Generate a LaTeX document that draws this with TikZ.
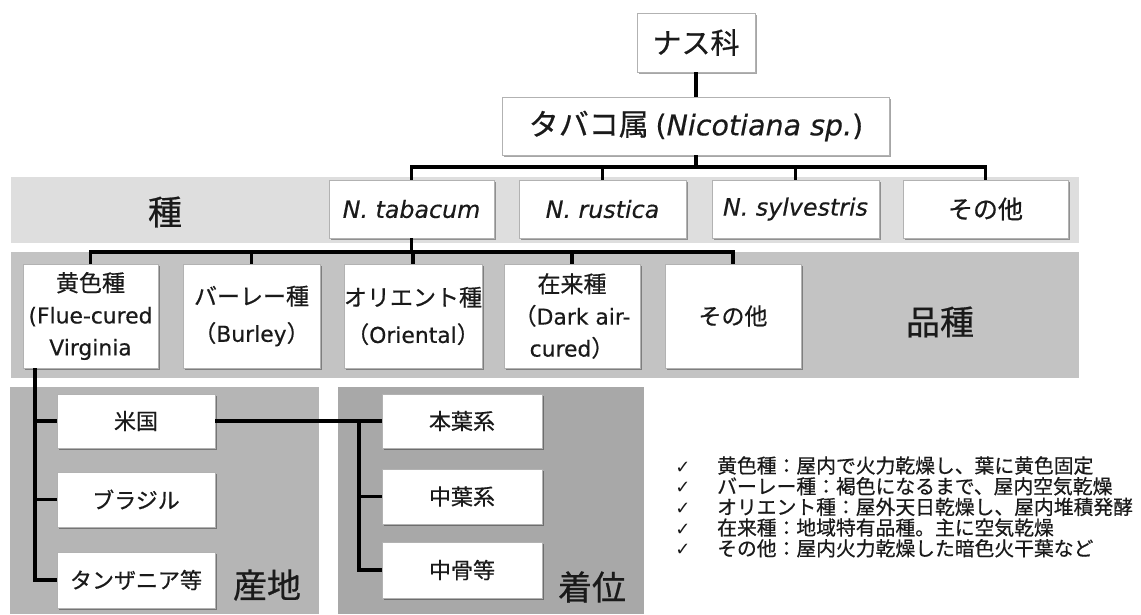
\documentclass[tikz,border=0pt]{standalone}
\usepackage{fontspec}
\setmainfont[FakeBold=0.6]{Noto Sans CJK JP}
\newfontfamily\lat[Scale=0.95,FakeBold=0.4,ItalicFont={DejaVu Sans Oblique}]{DejaVu Sans}
\newfontfamily\chk{DejaVu Sans}
\usetikzlibrary{shadows}
\definecolor{bandA}{HTML}{DEDEDE}
\definecolor{bandB}{HTML}{C3C3C3}
\definecolor{bandC}{HTML}{B5B5B5}
\definecolor{bandD}{HTML}{A8A8A8}
\definecolor{txt}{HTML}{1A1A1A}
\begin{document}
\begin{tikzpicture}[x=1pt,y=-1pt,
  conn/.style={line width=3.8pt, black},
  box/.style={draw=black!30, line width=0.7pt, fill=white, inner sep=0pt, align=center, text=txt,
    drop shadow={shadow xshift=1.6pt, shadow yshift=-1.6pt, opacity=0.35, fill=black}},
  fA/.style={font=\fontsize{29}{34}\selectfont},
  fB/.style={font=\fontsize{30}{34}\selectfont},
  fS/.style={font=\fontsize{25}{30}\selectfont},
  fV/.style={font=\fontsize{23}{32}\selectfont},
  fV2/.style={font=\fontsize{23}{37}\selectfont},
  fO/.style={font=\fontsize{22}{26}\selectfont},
  lbl/.style={font=\fontsize{34}{40}\selectfont, text=txt, inner sep=0pt},
  note/.style={font=\fontsize{19.8}{22}\selectfont, text=txt, inner sep=0pt, anchor=base west},
  chkst/.style={font=\chk\fontsize{18}{20}\selectfont, text=txt, inner sep=0pt, anchor=base}
]
\useasboundingbox[fill=white] (0,0) rectangle (1141,614);
% bands
\fill[bandA] (11,177) rectangle (1079,243);
\fill[bandB] (11,252) rectangle (1079,378);
\fill[bandC] (10,387) rectangle (319,614);
\fill[bandD] (338,387) rectangle (644,614);
% top
\node[box,fA,minimum width=118,minimum height=59] (nas) at (696,42.5) {ナス科};
\node[box,fB,minimum width=387,minimum height=58] (genus) at (696,126) {タバコ属 {\lat(\textit{Nicotiana sp.})}};
% species
\node[box,fS,minimum width=165,minimum height=58] (tabacum) at (411.5,209) {{\lat\itshape N. tabacum}};
\node[box,fS,minimum width=167,minimum height=58] (rustica) at (602.5,209) {{\lat\itshape N. rustica}};
\node[box,fS,minimum width=167,minimum height=58] (sylv) at (795.5,209) {{\lat\itshape N. sylvestris}};
\node[box,fS,minimum width=165,minimum height=58] (sonota) at (985.5,209) {その他};
% varieties
\node[box,fV,minimum width=135,minimum height=104] (yellow) at (90.5,316) {黄色種\\{\lat(Flue-cured}\\{\lat Virginia}};
\node[box,fV2,minimum width=137,minimum height=104] (burley) at (251.5,316) {バーレー種\\（{\lat Burley}）};
\node[box,fV2,minimum width=136,minimum height=104] (oriental) at (413,316) {オリエント種\\（{\lat Oriental}）};
\node[box,fV,minimum width=136,minimum height=104] (native) at (572,316) {在来種\\（{\lat Dark air-}\\{\lat cured}）};
\node[box,fV,minimum width=136,minimum height=104] (other) at (733,316) {その他};
% origin
\node[box,fO,minimum width=158,minimum height=54] (usa) at (136,421) {米国};
\node[box,fO,minimum width=158,minimum height=55] (brazil) at (136,499.5) {ブラジル};
\node[box,fO,minimum width=158,minimum height=56] (tanz) at (136,580) {タンザニア等};
% position
\node[box,fO,minimum width=160,minimum height=54] (honba) at (462,421) {本葉系};
\node[box,fO,minimum width=160,minimum height=55] (chuyo) at (462,496.5) {中葉系};
\node[box,fO,minimum width=160,minimum height=56] (chukotsu) at (462,570) {中骨等};
% labels
\node[lbl] (shu) at (165,212) {種};
\node[lbl] (hinshu) at (940,322) {品種};
\node[lbl] (sanchi) at (267,585) {産地};
\node[lbl] (chakui) at (592,587) {着位};
% connectors
\coordinate (busA) at (0,167);
\coordinate (busB) at (0,252);
\draw[conn] (nas) -- (genus);
\draw[conn] (genus.south) -- (genus.south |- busA);
\draw[conn] (tabacum.north) -- (tabacum.north |- busA) -| (sonota.north);
\draw[conn] (rustica.north) -- (rustica.north |- busA);
\draw[conn] (sylv.north) -- (sylv.north |- busA);
\draw[conn] (tabacum.south) -- (tabacum.south |- busB);
\draw[conn] (yellow.north) -- (yellow.north |- busB) -| (other.north);
\draw[conn] (burley.north) -- (burley.north |- busB);
\draw[conn] (oriental.north) -- (oriental.north |- busB);
\draw[conn] (native.north) -- (native.north |- busB);
\coordinate (yt) at ([xshift=12pt]yellow.south west);
\draw[conn] (yt) |- (tanz.west);
\draw[conn] (usa.west) -- (usa.west -| yt);
\draw[conn] (brazil.west) -- (brazil.west -| yt);
\draw[conn] (usa.east) -- (honba.west);
\coordinate (pt) at ([xshift=-23pt]honba.west);
\draw[conn] (pt) |- (chukotsu.west);
\draw[conn] (chuyo.west) -- (chuyo.west -| pt);
% notes
\node[chkst] (c1) at (683,473) {✓};
\node[chkst] (c2) at (683,493.7) {✓};
\node[chkst] (c3) at (683,514.4) {✓};
\node[chkst] (c4) at (683,535.1) {✓};
\node[chkst] (c5) at (683,555.8) {✓};
\node[note] (n1) at (717,473) {黄色種：屋内で火力乾燥し、葉に黄色固定};
\node[note] (n2) at (717,493.7) {バーレー種：褐色になるまで、屋内空気乾燥};
\node[note] (n3) at (717,514.4) {オリエント種：屋外天日乾燥し、屋内堆積発酵};
\node[note] (n4) at (717,535.1) {在来種：地域特有品種。主に空気乾燥};
\node[note] (n5) at (717,555.8) {その他：屋内火力乾燥した暗色火干葉など};
\end{tikzpicture}
\end{document}
